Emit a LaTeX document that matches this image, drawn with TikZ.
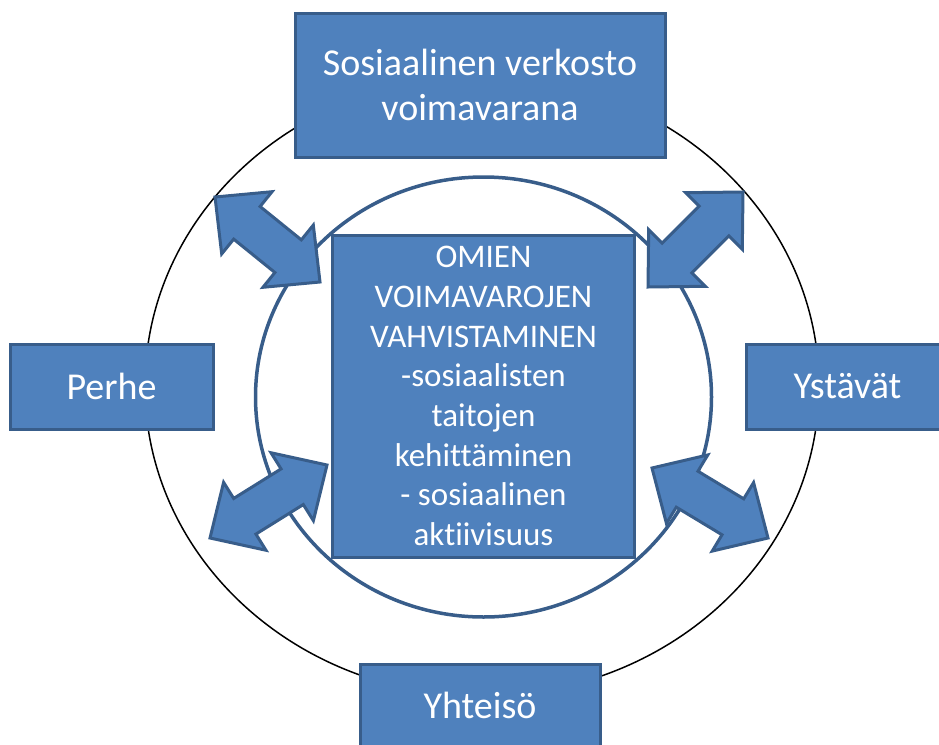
\documentclass[tikz,border=0pt]{standalone}
\usepackage{fontspec}
\setmainfont[Ligatures={NoCommon}]{Carlito}
\usetikzlibrary{calc}
\definecolor{boxfill}{HTML}{4F81BD}
\definecolor{boxline}{HTML}{385D8A}
\tikzset{
  bluebox/.style={draw=boxline, fill=boxfill, line width=3pt, text=white, align=center, inner sep=0pt},
  outerfont/.style={font=\fontsize{38}{45}\selectfont},
  arrowshape/.style={draw=boxline, fill=boxfill, line width=3pt, line join=miter},
}
\newcommand\dblarr[2]{%
  \filldraw[arrowshape] (#1)
    -- ($(#1)!57.3pt!44.3:(#2)$) -- ($(#1)!46.1pt!27.1:(#2)$)
    -- ($(#2)!46.1pt!-27.1:(#1)$) -- ($(#2)!57.3pt!-44.3:(#1)$)
    -- (#2)
    -- ($(#2)!57.3pt!44.3:(#1)$) -- ($(#2)!46.1pt!27.1:(#1)$)
    -- ($(#1)!46.1pt!-27.1:(#2)$) -- ($(#1)!57.3pt!-44.3:(#2)$)
    -- cycle;}
\begin{document}
\begin{tikzpicture}[x=1pt, y=-1pt]
  \useasboundingbox (0,0) rectangle (939,744);
  \clip (0,0) rectangle (939,744);
  % outer ring
  \draw[black, line width=1.5pt] (482,386) ellipse [x radius=337, y radius=310];
  % inner ring
  \draw[boxline, line width=3.5pt] (483.5,397) ellipse [x radius=228, y radius=220];
  % centre box
  \node[bluebox, minimum width=302pt, minimum height=322pt,
        font=\fontsize{33}{39.7}\selectfont] (centre) at (483.5,396)
    {OMIEN\\VOIMAVAROJEN\\VAHVISTAMINEN\\-sosiaalisten\\taitojen\\kehittäminen\\- sosiaalinen\\aktiivisuus};
  % outer boxes
  \node[bluebox, outerfont, minimum width=370pt, minimum height=144pt] (verkosto) at (480,85)
    {Sosiaalinen verkosto\\voimavarana};
  \node[bluebox, outerfont, minimum width=203pt, minimum height=85pt] (perhe) at (111.5,386.5) {Perhe};
  \node[bluebox, outerfont, minimum width=203pt, minimum height=85pt] (ystavat) at (847.5,386.5) {Ystävät};
  \node[bluebox, outerfont, minimum width=240pt, minimum height=83pt] (yhteiso) at (480,705.5) {Yhteisö};
  % arrow end points
  \coordinate (tla) at (215,197); \coordinate (tlb) at (320,282);
  \coordinate (tra) at (743,192); \coordinate (trb) at (648,287);
  \coordinate (bla) at (210,538); \coordinate (blb) at (327,465);
  \coordinate (bra) at (768,538); \coordinate (brb) at (652,468);
  \dblarr{tla}{tlb}
  \dblarr{tra}{trb}
  \dblarr{bla}{blb}
  \dblarr{bra}{brb}
\end{tikzpicture}
\end{document}
